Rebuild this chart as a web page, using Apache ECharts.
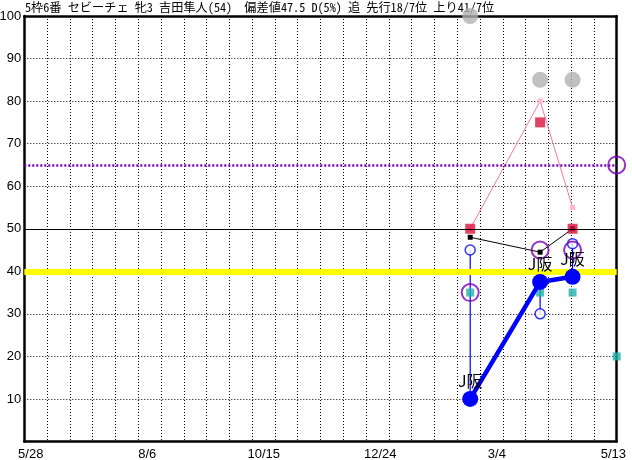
<!DOCTYPE html>
<html><head><meta charset="utf-8">
<script src="https://cdn.jsdelivr.net/npm/echarts@6/dist/echarts.min.js"></script>
<style>html,body{margin:0;padding:0;background:#fff}#c{width:632px;height:460px}</style>
</head><body><div id="c"></div>
<script>
// ---- data ----
const titleText = '5枠6番 セビーチェ 牝3 吉田隼人(54)  偏差値47.5 D(5%) 追 先行18/7位 上り41/7位';
const xTickDays = [0, 70, 140, 210, 280, 350];          // days since 5/28
const xTickLabels = ['5/28', '8/6', '10/15', '12/24', '3/4', '5/13'];
const yTickValues = [10, 20, 30, 40, 50, 60, 70, 80, 90, 100];
const raceDays = [264, 306, 325.5];                       // past races (days since 5/28)
const nextRaceDay = 352;                                  // upcoming race
const courseLabels = ['J阪', 'J阪', 'J阪'];
const grayValues = [100, 85, 85];
const redValues = [50, 75, 50];
const pinkValues = [50, 80, 55];
const blackValues = [48, 44.5, 50];
const openBlueValues = [45, 30, 46.5];
const purpleValues = [35, 45, 45];
const nextPurpleValue = 65;
const tealValues = [35, 35, 35];
const nextTealValue = 20;
const blueValues = [10, 37.5, 38.7];
const yellowLineValue = 40;
const blackLineValue = 50;
const purpleLineValue = 65;

// ---- chart ----
const pairs = (vals) => vals.map((v, i) => [raceDays[i], v]);
const chart = echarts.init(document.getElementById('c'), null, {renderer: 'canvas'});
const jp = '"Noto Sans Mono CJK JP", "Noto Sans CJK JP", sans-serif';
const jpLabel = '"Noto Sans CJK JP", sans-serif';
const num = '"Liberation Sans", Arial, sans-serif';

const verticalSeries = raceDays.map((d, i) => ({
  type: 'line', xAxisIndex: 0, yAxisIndex: 0, z: 3,
  data: [[d, openBlueValues[i]], [d, blueValues[i]]],
  symbol: 'none', silent: true, animation: false,
  lineStyle: {color: '#0000ff', width: 1.2}
}));

chart.setOption({
  animation: false,
  backgroundColor: '#fff',
  title: {
    text: titleText, left: 25, top: 1, padding: 0, z: 1,
    textStyle: {fontSize: 12.2, fontWeight: 'normal', color: '#000', fontFamily: jp}
  },
  grid: {left: 24.3, right: 15.3, top: 16, bottom: 18.5, outerBoundsMode: 'none', containLabel: false},
  xAxis: [
    {
      type: 'value', min: -3.85, max: nextRaceDay, position: 'bottom',
      axisLine: {show: true, onZero: false, lineStyle: {color: '#000', width: 2.5}},
      axisTick: {show: false},
      splitLine: {show: false},
      axisLabel: {
        customValues: xTickDays,
        formatter: (v) => { const k = xTickDays.indexOf(Math.round(v)); return k >= 0 ? xTickLabels[k] : ''; },
        color: '#000', fontSize: 13, fontFamily: num, margin: 6
      }
    },
    {
      type: 'value', min: 0, max: 26, interval: 1, position: 'top',
      axisLine: {show: true, onZero: false, lineStyle: {color: '#000', width: 2.5}},
      axisTick: {show: false}, axisLabel: {show: false},
      splitLine: {show: true, lineStyle: {color: '#000', width: 1, type: [1, 2]}}
    }
  ],
  yAxis: [
    {
      type: 'value', min: 0, max: 100, interval: 10, position: 'left',
      axisLine: {show: true, onZero: false, lineStyle: {color: '#000', width: 2.5}},
      axisTick: {show: false},
      axisLabel: {
        formatter: (v) => yTickValues.includes(v) ? String(v) : '',
        color: '#000', fontSize: 13, fontFamily: num, margin: 3
      },
      splitLine: {show: true, lineStyle: {color: '#000', width: 1, type: [1, 2]}}
    },
    {
      type: 'value', min: 0, max: 100, position: 'right',
      axisLine: {show: true, onZero: false, lineStyle: {color: '#000', width: 2.5}},
      axisTick: {show: false}, axisLabel: {show: false}, splitLine: {show: false}
    }
  ],
  series: [
    {
      type: 'line', data: [], z: 1, silent: true,
      markLine: {
        silent: true, symbol: 'none', label: {show: false}, animation: false,
        data: [
          {yAxis: yellowLineValue, lineStyle: {color: '#ffff00', width: 6, type: 'solid'}},
          {yAxis: blackLineValue, lineStyle: {color: '#000', width: 1, type: 'solid'}},
          {yAxis: purpleLineValue, lineStyle: {color: '#7a00b8', width: 2.5, type: [2, 2]}}
        ]
      }
    },
    {
      type: 'scatter', data: pairs(grayValues), symbol: 'circle', symbolSize: 16, clip: false, z: 2,
      itemStyle: {color: '#b2b2b2'}
    },
    {
      type: 'line', data: pairs(pinkValues), symbol: 'rect', symbolSize: 5, showSymbol: true, z: 3,
      lineStyle: {color: '#f07aa8', width: 1}, itemStyle: {color: '#ffb8cc', borderWidth: 0}
    },
    {
      type: 'line', data: pairs(blackValues), symbol: 'rect', symbolSize: 5, showSymbol: true, z: 3,
      lineStyle: {color: '#000', width: 1}, itemStyle: {color: '#000', borderWidth: 0}
    },
    {
      type: 'scatter', data: pairs(redValues), symbol: 'rect', symbolSize: 10, z: 4,
      itemStyle: {color: '#dc143c'}
    },
    ...verticalSeries,
    {
      type: 'scatter', data: pairs(openBlueValues), symbol: 'circle', symbolSize: 10, z: 5,
      itemStyle: {color: '#ffffff', borderColor: '#0000ff', borderWidth: 1.5}
    },
    {
      type: 'scatter', data: pairs(tealValues).concat([[nextRaceDay, nextTealValue]]), symbol: 'rect', symbolSize: 8, clip: false, z: 5,
      itemStyle: {color: '#20b2aa'}
    },
    {
      type: 'scatter', data: pairs(purpleValues).concat([[nextRaceDay, nextPurpleValue]]), symbol: 'circle', symbolSize: 17, clip: false, z: 6,
      itemStyle: {color: 'rgba(0,0,0,0)', borderColor: '#7a00b8', borderWidth: 2}
    },
    {
      type: 'line', data: pairs(blueValues), symbol: 'circle', symbolSize: 16, showSymbol: true, z: 7,
      lineStyle: {color: '#0000ff', width: 4.5}, itemStyle: {color: '#0000ff', borderWidth: 0},
      label: {
        show: true, position: 'top', distance: 2,
        formatter: (p) => courseLabels[p.dataIndex],
        color: '#000', fontSize: 16, fontFamily: jpLabel
      }
    }
  ]
});
</script>
</body></html>
